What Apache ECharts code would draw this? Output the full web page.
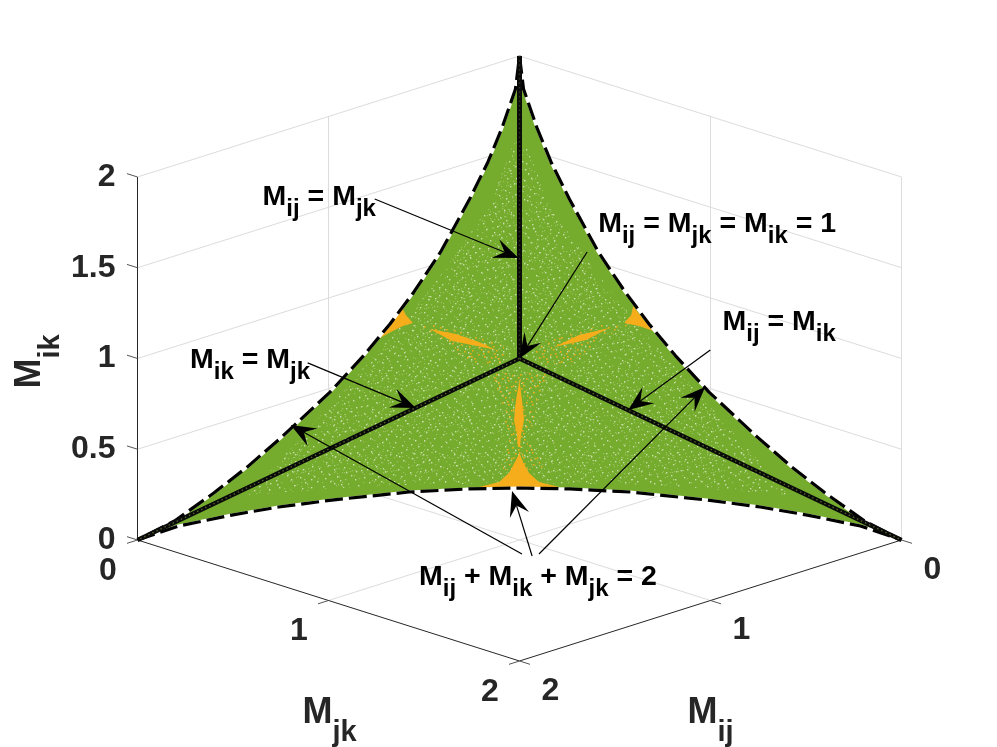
<!DOCTYPE html>
<html>
<head>
<meta charset="utf-8">
<title>Mij Mjk Mik</title>
<script src="https://cdn.jsdelivr.net/npm/echarts@6/dist/echarts.min.js"></script>
<style>
  html, body { margin: 0; background: #fff; }
  #chart { width: 997px; height: 747px; }
</style>
</head>
<body>
<div id="chart"></div>
<script>
// one boundary arc, left corner to right corner of the bottom edge
var arcLong  = [2, 1.864, 1.702, 1.562, 1.409, 1.19, 1.027, 0.893, 0.762, 0.611, 0.426, 0.301, 0.195, 0.079, 0]
var arcOther = [0, 0.079, 0.195, 0.301, 0.426, 0.611, 0.762, 0.893, 1.027, 1.19, 1.409, 1.562, 1.702, 1.864, 2]
var arcSmall = [0, 0.058, 0.103, 0.136, 0.165, 0.198, 0.211, 0.215, 0.211, 0.198, 0.165, 0.136, 0.103, 0.058, 0]

// the three M = M lines, centre to corner
var lineCentre = [1, 1, 1]
var lineTop = [0, 0, 2]
var lineLeft = [2, 0, 0]
var lineRight = [0, 2, 0]

// ticks
var mikTicks = [0, 0.5, 1, 1.5, 2]
var mikTickLabels = ['0', '0.5', '1', '1.5', '2']
var floorTicks = [0, 1, 2]

// orange patches, in projected units (x = Mjk - Mij, y = Mik - (Mij + Mjk) / 3)
var cuspBottomX = [-0.212, -0.107, -0.055, -0.024, 0, 0.018, 0.05, 0.102, 0.207]
var cuspBottomY = [-0.375, -0.347, -0.298, -0.237, -0.187, -0.237, -0.298, -0.347, -0.375]
var spindleBottomX = [0, 0.013, 0.024, 0.008, 0.003, -0.008, -0.013, -0.029, -0.018]
var spindleBottomY = [0.215, 0.105, -0.006, -0.088, -0.154, -0.154, -0.088, -0.006, 0.105]
var cuspLeftX = [-0.616, -0.595, -0.558, -0.611, -0.663, -0.731, -0.674]
var cuspLeftY = [0.617, 0.573, 0.529, 0.512, 0.485, 0.446, 0.534]
var spindleLeftX = [-0.469, -0.333, -0.212, -0.123, -0.223, -0.354]
var spindleLeftY = [0.496, 0.468, 0.424, 0.38, 0.402, 0.43]
var cuspRightX = [0.595, 0.647, 0.7, 0.626, 0.548, 0.585]
var cuspRightY = [0.623, 0.551, 0.485, 0.512, 0.529, 0.573]
var spindleRightX = [0.181, 0.312, 0.469, 0.349]
var spindleRightY = [0.397, 0.463, 0.501, 0.435]

// where the loose orange dots and the pale specks sit
var fanBottomX = [-0.16, 0.155, 0.102, 0.05, 0.129, -0.107, -0.055, -0.107]
var fanBottomY = [0.259, 0.259, 0.132, -0.116, -0.281, -0.281, -0.116, 0.132]
var fanLeftX = [-0.55, -0.422, -0.081, -0.081, -0.265, -0.396]
var fanLeftY = [0.518, 0.518, 0.408, 0.298, 0.314, 0.435]
var fanRightX = [0.076, 0.417, 0.574, 0.417, 0.286, 0.102]
var fanRightY = [0.408, 0.518, 0.518, 0.435, 0.314, 0.298]
var speckX = [0, 0.16, 0.4, 0.67, 0.93, 1.413, 0.941, 0.522, 0, -0.474, -0.946, -1.418, -0.93, -0.67, -0.4, -0.16]
var speckY = [1.6, 1.17, 0.81, 0.455, 0.15, -0.419, -0.38, -0.358, -0.358, -0.358, -0.38, -0.419, 0.15, 0.455, 0.81, 1.17]

// annotation arrows, tail then head, projected units
var arrowTailX = [-0.758, 0.354, -1.109, 0.999, 0.013, 0.066, 0.102]
var arrowTailY = [1.212, 0.92, 0.309, 0.38, -0.744, -0.755, -0.744]
var arrowHeadX = [-0.005, 0, -0.543, 0.569, -1.198, -0.039, 0.972]
var arrowHeadY = [0.887, 0.333, 0.061, 0.05, -0.033, -0.397, 0.176]

// annotations
var noteText = [
  '{m|M}{s|ij}{m| = M}{s|jk}',
  '{m|M}{s|ij}{m| = M}{s|jk}{m| = M}{s|ik}{m| = 1}',
  '{m|M}{s|ij}{m| = M}{s|ik}',
  '{m|M}{s|ik}{m| = M}{s|jk}',
  '{m|M}{s|ij}{m| + M}{s|ik}{m| + M}{s|jk}{m| = 2}'
]
var noteX = [-1.345, 0.412, 1.063, -1.725, -0.526]
var noteY = [1.222, 1.073, 0.533, 0.324, -0.872]

// texture tiles, hand placed dots
var paleDots = [3,2, 12,7, 15,8, 22,1, 37,4, 39,6, 51,3, 60,9, 6,14, 8,17, 19,12, 28,10, 33,16, 45,11, 47,14, 56,18, 1,23, 14,21, 24,19,
  26,24, 41,22, 52,25, 63,20, 5,30, 10,33, 17,28, 31,27, 35,31, 44,29, 49,34, 58,28, 61,33, 3,38, 13,41, 21,36, 23,39, 29,43, 38,37, 46,40,
  55,39, 7,47, 16,45, 19,50, 33,46, 36,51, 42,48, 53,45, 59,50, 2,55, 11,58, 25,54, 27,60, 40,56, 48,61, 50,54, 62,58, 9,63, 18,61, 34,62, 57,62,
  30,5, 43,1, 9,26, 54,11, 20,32, 39,13, 62,42, 4,50, 47,21, 25,47, 14,35, 58,6, 36,23, 51,42, 6,6, 31,56, 44,43, 12,52, 55,31, 17,4]
var orangeDots = [2,3, 9,1, 17,4, 5,8, 13,10, 20,7, 1,13, 8,15, 16,14, 22,18, 4,20, 11,21, 18,22, 7,2, 14,17, 23,11, 11,6, 19,1, 3,17, 15,20]

var orange = '#f5ad1b'
var orangeSpeck = 'rgba(245,173,27,0.9)'

function toX(mij, mjk) { return mjk - mij }
function toY(mij, mjk, mik) { return mik - (mij + mjk) / 3 }

function project(p) { return [toX(p[0], p[1]), toY(p[0], p[1], p[2])] }

function arc(a, b, c) {
  return a.map(function (v, i) { return project([a[i], b[i], c[i]]) })
}

var edgeBottom = arc(arcLong, arcOther, arcSmall)
var edgeRight = arc(arcSmall, arcLong, arcOther)
var edgeLeft = arc(arcOther, arcSmall, arcLong)
var outline = edgeBottom.concat(edgeRight.slice(1), edgeLeft.slice(1))

// dots wrap at the tile edge, so one list can fill tiles of different sizes
function tile(size, dots, color, dot) {
  var c = document.createElement('canvas')
  c.width = c.height = size
  var g = c.getContext('2d')
  g.fillStyle = color
  for (var i = 0; i < dots.length; i += 2) {
    g.fillRect(dots[i] % size, dots[i + 1] % size, dot, dot)
  }
  return { image: c, repeat: 'repeat' }
}

function zipXY(xs, ys) { return xs.map(function (v, i) { return [v, ys[i]] }) }

function polygonSeries(points, fill, z) {
  return {
    type: 'custom',
    coordinateSystem: 'cartesian2d',
    silent: true,
    z: z,
    data: [[0, 0]],
    renderItem: function (params, api) {
      return {
        type: 'polygon',
        shape: { points: points.map(function (p) { return api.coord(p) }) },
        style: { fill: fill }
      }
    }
  }
}

function segmentSeries(segments, color, width, z) {
  return {
    type: 'custom',
    coordinateSystem: 'cartesian2d',
    silent: true,
    z: z,
    encode: { x: [0, 2], y: [1, 3] },
    data: segments.map(function (s) { return project(s[0]).concat(project(s[1])) }),
    renderItem: function (params, api) {
      var a = api.coord([api.value(0), api.value(1)])
      var b = api.coord([api.value(2), api.value(3)])
      return {
        type: 'line',
        shape: { x1: a[0], y1: a[1], x2: b[0], y2: b[1] },
        style: { stroke: color, lineWidth: width }
      }
    }
  }
}

function lineSeries(points, color, width, dash, z) {
  return {
    type: 'line',
    silent: true,
    z: z,
    symbol: 'none',
    data: points,
    lineStyle: { color: color, width: width, type: dash || 'solid', cap: 'butt' }
  }
}

var arrowSeries = {
  type: 'custom',
  coordinateSystem: 'cartesian2d',
  silent: true,
  z: 8,
  encode: { x: [0, 2], y: [1, 3] },
  data: arrowTailX.map(function (v, i) {
    return [arrowTailX[i], arrowTailY[i], arrowHeadX[i], arrowHeadY[i]]
  }),
  renderItem: function (params, api) {
    var t = api.coord([api.value(0), api.value(1)])
    var h = api.coord([api.value(2), api.value(3)])
    var dx = h[0] - t[0], dy = h[1] - t[1]
    var len = Math.sqrt(dx * dx + dy * dy)
    dx /= len; dy /= len
    var at = function (back, side) {
      return [h[0] - dx * back - dy * side, h[1] - dy * back + dx * side]
    }
    var notch = at(15, 0)
    return {
      type: 'group',
      children: [
        { type: 'line', shape: { x1: t[0], y1: t[1], x2: notch[0], y2: notch[1] }, style: { stroke: '#000', lineWidth: 1.2 } },
        { type: 'polygon', shape: { points: [h, at(25, 10), notch, at(25, -10)] }, style: { fill: '#000' } }
      ]
    }
  }
}

var grey = '#dcdcdc'
var wallLines = []
mikTicks.forEach(function (k) {
  wallLines.push([[2, 0, k], [0, 0, k]])
  wallLines.push([[0, 2, k], [0, 0, k]])
})
wallLines.push([[1, 0, 0], [1, 0, 2]], [[0, 1, 0], [0, 1, 2]], [[0, 2, 0], [0, 2, 2]])
wallLines.push([[1, 0, 0], [1, 2, 0]], [[0, 1, 0], [2, 1, 0]])

var axisLines = [[[2, 0, 0], [2, 0, 2]], [[2, 0, 0], [2, 2, 0]], [[0, 2, 0], [2, 2, 0]]]
var tickLines = []
mikTicks.forEach(function (k) { tickLines.push([[2, 0, k], [2, -0.055, k]]) })
floorTicks.forEach(function (t) {
  tickLines.push([[2, t, 0], [2.055, t, 0]])
  tickLines.push([[t, 2, 0], [t, 2.055, 0]])
})

var tickFont = { color: '#262626', fontFamily: 'Liberation Sans', fontWeight: 'bold', fontSize: 32 }
var titleRich = {
  m: { color: '#262626', fontFamily: 'Liberation Sans', fontWeight: 'bold', fontSize: 36, lineHeight: 38, verticalAlign: 'top' },
  s: { color: '#262626', fontFamily: 'Liberation Sans', fontWeight: 'bold', fontSize: 29, lineHeight: 32, verticalAlign: 'top', padding: [24, 0, 0, 0] }
}
var noteRich = {
  m: { color: '#000', fontFamily: 'Liberation Sans', fontWeight: 'bold', fontSize: 28.5, lineHeight: 30, verticalAlign: 'top' },
  s: { color: '#000', fontFamily: 'Liberation Sans', fontWeight: 'bold', fontSize: 24, lineHeight: 25, verticalAlign: 'top', padding: [15, 0, 0, 0] }
}

function labelSeries(points, texts, label) {
  return {
    type: 'scatter',
    silent: true,
    z: 9,
    symbolSize: 0,
    itemStyle: { opacity: 1 },
    data: points.map(function (p, i) {
      return { value: p, label: Object.assign({ show: true, formatter: texts[i] }, label) }
    })
  }
}

var chart = echarts.init(document.getElementById('chart'), null, { renderer: 'canvas' })

chart.setOption({
  animation: false,
  backgroundColor: '#fff',
  grid: { left: 0, right: 0, top: 0, bottom: 0 },
  xAxis: { type: 'value', min: -2.7199, max: 2.5, show: false },
  yAxis: { type: 'value', min: -1.8072, max: 2.3085, show: false },
  series: [
    segmentSeries(wallLines, grey, 1, 1),
    segmentSeries(axisLines, '#262626', 1, 2),
    segmentSeries(tickLines, '#555', 1, 2),

    polygonSeries(outline, '#75ac2d', 3),
    polygonSeries(zipXY(speckX, speckY), tile(64, paleDots, 'rgba(255,255,255,0.6)', 1.4), 4),
    polygonSeries(zipXY(speckX, speckY), tile(41, paleDots, 'rgba(235,245,220,0.3)', 1.2), 4),

    polygonSeries(zipXY(fanBottomX, fanBottomY), tile(24, orangeDots, orangeSpeck, 1.6), 5),
    polygonSeries(zipXY(fanLeftX, fanLeftY), tile(24, orangeDots, orangeSpeck, 1.6), 5),
    polygonSeries(zipXY(fanRightX, fanRightY), tile(24, orangeDots, orangeSpeck, 1.6), 5),
    polygonSeries(zipXY(cuspBottomX, cuspBottomY), orange, 5),
    polygonSeries(zipXY(spindleBottomX, spindleBottomY), orange, 5),
    polygonSeries(zipXY(cuspLeftX, cuspLeftY), orange, 5),
    polygonSeries(zipXY(spindleLeftX, spindleLeftY), orange, 5),
    polygonSeries(zipXY(cuspRightX, cuspRightY), orange, 5),
    polygonSeries(zipXY(spindleRightX, spindleRightY), orange, 5),

    lineSeries(outline, '#fff', 3, 'solid', 6),
    lineSeries(outline, '#000', 3.2, [18, 6], 6),

    lineSeries([project(lineCentre), project(lineTop)], '#0a0a0a', 5, 'solid', 7),
    lineSeries([project(lineCentre), project(lineTop)], '#2c3320', 1.4, [1.5, 3], 7),
    lineSeries([project(lineCentre), project(lineLeft)], '#0a0a0a', 4.4, 'solid', 7),
    lineSeries([project(lineCentre), project(lineLeft)], '#4f6a2c', 1.3, [1.5, 3], 7),
    lineSeries([project(lineCentre), project(lineRight)], '#0a0a0a', 4.4, 'solid', 7),
    lineSeries([project(lineCentre), project(lineRight)], '#4f6a2c', 1.3, [1.5, 3], 7),

    arrowSeries,

    labelSeries(mikTicks.map(function (k) { return project([2, 0, k]) }), mikTickLabels,
      Object.assign({ position: 'left', distance: 22 }, tickFont)),
    labelSeries(floorTicks.map(function (t) { return project([2, t, 0]) }), floorTicks.map(String),
      Object.assign({ position: 'inside', offset: [-29.5, 31] }, tickFont)),
    labelSeries(floorTicks.map(function (t) { return project([t, 2, 0]) }), floorTicks.map(String),
      Object.assign({ position: 'inside', offset: [31, 30] }, tickFont)),

    labelSeries(zipXY(noteX, noteY), noteText, { position: 'right', distance: 0, rich: noteRich }),

    // axis titles hang off the floor corners
    labelSeries([project([2, 2, 0])], ['{m|M}{s|jk}'], { position: 'inside', offset: [-190, 53], rich: titleRich }),
    labelSeries([project([2, 2, 0])], ['{m|M}{s|ij}'], { position: 'inside', offset: [191, 53], rich: titleRich }),
    labelSeries([project([2, 0, 1])], ['{m|M}{s|ik}'], { position: 'inside', offset: [-3, -106], rotate: 90, rich: titleRich })
  ]
})
</script>
</body>
</html>
